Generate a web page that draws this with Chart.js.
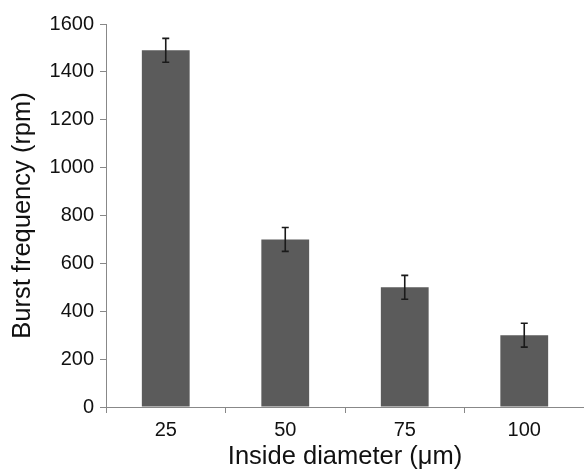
<!DOCTYPE html>
<html>
<head>
<meta charset="utf-8">
<script src="https://cdn.jsdelivr.net/npm/chart.js@4"></script>
<style>
  html, body { margin: 0; padding: 0; background: #fff; }
  #wrap { width: 584px; height: 470px; }
</style>
</head>
<body>
<div id="wrap"><canvas id="chartBurst"></canvas></div>
<script>
// datos
const diametros = ["25", "50", "75", "100"];
const frecuencias = [1490, 700, 500, 300];
const errores = [50, 50, 50, 50];

// barras de error dibujadas con la escala y
const errorBars = {
  id: "errorBars",
  afterDatasetsDraw(chart) {
    const ctx = chart.ctx;
    const y = chart.scales.y;
    const meta = chart.getDatasetMeta(0);
    ctx.save();
    ctx.strokeStyle = "#1a1a1a";
    ctx.lineWidth = 1.6;
    meta.data.forEach((bar, i) => {
      const top = y.getPixelForValue(frecuencias[i] + errores[i]);
      const bot = y.getPixelForValue(frecuencias[i] - errores[i]);
      ctx.beginPath();
      ctx.moveTo(bar.x, top);
      ctx.lineTo(bar.x, bot);
      ctx.moveTo(bar.x - 3.5, top);
      ctx.lineTo(bar.x + 3.5, top);
      ctx.moveTo(bar.x - 3.5, bot);
      ctx.lineTo(bar.x + 3.5, bot);
      ctx.stroke();
    });
    ctx.restore();
  }
};

const fuente = "'Liberation Sans', Arial, sans-serif";

new Chart(document.getElementById("chartBurst"), {
  type: "bar",
  data: {
    labels: diametros,
    datasets: [
      {
        data: frecuencias,
        backgroundColor: "#5b5b5b",
        barPercentage: 0.4,
        categoryPercentage: 1,
      },
    ],
  },
  options: {
    responsive: true,
    maintainAspectRatio: false,
    animation: false,
    layout: { padding: { top: 24, right: 0, left: 0, bottom: 0 } },
    plugins: { legend: { display: false }, tooltip: { enabled: false } },
    scales: {
      x: {
        grid: { offset: true, drawOnChartArea: false, color: "#888", tickLength: 6 },
        border: { color: "#888" },
        ticks: { color: "#111", font: { family: fuente, size: 20 }, padding: 5 },
        title: {
          display: true,
          text: "Inside diameter (\u03bcm)",
          color: "#111",
          font: { family: fuente, size: 25.5, lineHeight: 1 },
          padding: { top: 0, bottom: 0 },
        },
        afterFit(scale) { scale.height = 63; },
      },
      y: {
        min: 0,
        max: 1600,
        ticks: {
          stepSize: 200,
          color: "#111",
          font: { family: fuente, size: 20 },
          padding: 6,
          callback: (v) => String(v),
        },
        grid: { drawOnChartArea: false, color: "#888", tickLength: 6 },
        border: { color: "#888" },
        title: {
          display: true,
          text: "Burst frequency (rpm)",
          color: "#111",
          font: { family: fuente, size: 25.5, lineHeight: 1 },
          padding: { top: 10, bottom: 0 },
        },
        afterFit(scale) { scale.width = 106; },
      },
    },
  },
  plugins: [errorBars],
});
</script>
</body>
</html>
